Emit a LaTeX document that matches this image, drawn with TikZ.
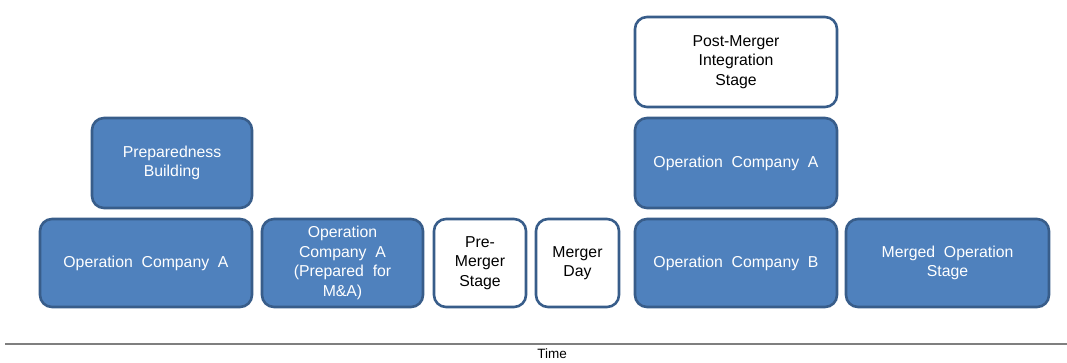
\documentclass[tikz,border=0pt]{standalone}
\usepackage{fontspec}
\setmainfont{Liberation Sans}
\definecolor{boxblue}{HTML}{4F81BD}
\definecolor{boxedge}{HTML}{385D8A}
\definecolor{axisgray}{HTML}{7F7F7F}
\begin{document}
\begin{tikzpicture}[x=1pt,y=-1pt,
  stagebox/.style={draw=boxedge, line width=2.6pt, rounded corners=12pt, align=center,
    inner sep=0pt, outer sep=0pt, font=\fontsize{15.8}{19.5}\selectfont},
  bluebox/.style={stagebox, fill=boxblue, text=white},
  whitebox/.style={stagebox, fill=white, text=black}]
\useasboundingbox (0,0) rectangle (1067,362);
\newcommand{\stagenode}[7]{%
  \node[#1, minimum width={#4-#2}, minimum height={#5-#3}] (#6) at ({(#2+#4)/2},{(#3+#5)/2}) {#7};}
\stagenode{bluebox}{92}{118}{252}{208}{prep}{Preparedness\\Building}
\stagenode{bluebox}{40}{219}{252}{307}{opA1}{Operation~ Company~ A}
\stagenode{bluebox}{262}{219}{423}{307}{opA2}{Operation\\Company~ A\\(Prepared~ for\\M\&A)}
\stagenode{whitebox}{434}{219}{526}{307}{pre}{Pre-\\Merger\\Stage}
\stagenode{whitebox}{536}{219}{619}{307}{day}{Merger\\Day}
\stagenode{whitebox}{635}{17}{837}{107}{post}{Post-Merger\\Integration\\Stage}
\stagenode{bluebox}{635}{118}{837}{208}{opA3}{Operation~ Company~ A}
\stagenode{bluebox}{635}{219}{837}{307}{opB}{Operation~ Company~ B}
\stagenode{bluebox}{846}{219}{1049}{307}{merged}{Merged~ Operation\\Stage}
\coordinate (tl) at (5,344);
\coordinate (tr) at (1067,344);
\draw[axisgray, line width=2.2pt] (tl) -- (tr);
\node[font=\fontsize{13.5}{14}\selectfont, inner sep=0pt, anchor=north] (time) at (552,349) {Time};
\end{tikzpicture}
\end{document}
